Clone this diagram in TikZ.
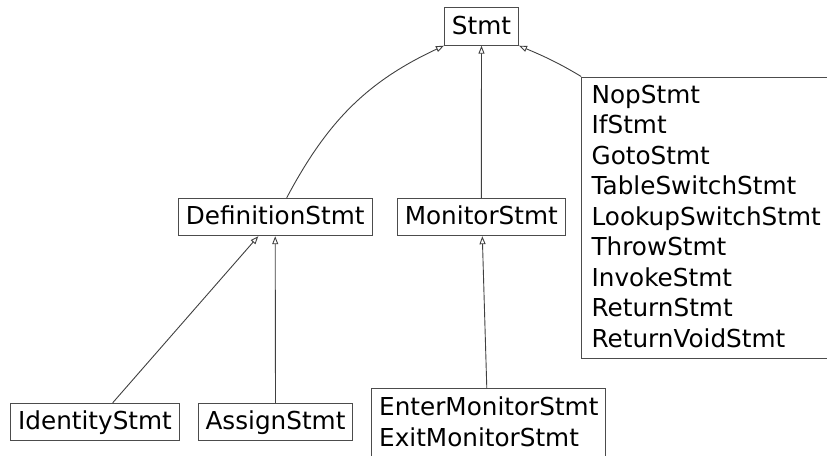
\documentclass[tikz,border=0pt]{standalone}
\usepackage{fontspec}
\setmainfont{DejaVu Sans}
\usetikzlibrary{arrows.meta}

\begin{document}
\begin{tikzpicture}[x=1pt,y=1pt,
  font=\fontsize{24.7}{30.5}\selectfont,
  cls/.style={draw=black!70,line width=1pt,inner xsep=7.5pt,inner ysep=8.2pt,text height=18pt,text depth=3pt},
  grp/.style={draw=black!70,line width=1pt,inner xsep=7.5pt,inner ysep=8pt,text depth=3pt,align=left},
  isa/.style={draw=black!75,line width=0.9pt,-{Triangle[open,length=8pt,width=6pt]}}]
\newcommand{\rowa}{-26.5}
\newcommand{\rowb}{-217}
\newcommand{\rowc}{-422}
\useasboundingbox (0,0) rectangle (827,-455);
\node[cls] (stmt) at (481.5,\rowa) {Stmt};
\node[cls] (def) at (275.2,\rowb) {DefinitionStmt};
\node[cls] (mon) at (481.3,\rowb) {MonitorStmt};
\node[grp,anchor=north west,minimum width=249pt] (other) at (581.2,-76.5) {NopStmt\\IfStmt\\GotoStmt\\TableSwitchStmt\\LookupSwitchStmt\\ThrowStmt\\InvokeStmt\\ReturnStmt\\ReturnVoidStmt};
\node[cls] (ident) at (95,\rowc) {IdentityStmt};
\node[cls] (assign) at (275.5,\rowc) {AssignStmt};
\node[grp,anchor=north] (enter) at (488.8,-388.3) {EnterMonitorStmt\\ExitMonitorStmt};
\draw[isa] ([xshift=11.5pt]def.north) to[out=62,in=205] (stmt.south west);
\draw[isa] (mon.north) -- (stmt.south);
\draw[isa] (other.north west) to[out=149,in=-23] (stmt.south east);
\draw[isa] ([xshift=17.7pt]ident.north) -- ([xshift=-16.9pt]def.south);
\draw[isa] (assign.north) -- (def.south);
\draw[isa] ([xshift=-2pt]enter.north) -- ([xshift=1pt]mon.south);
\end{tikzpicture}
\end{document}
